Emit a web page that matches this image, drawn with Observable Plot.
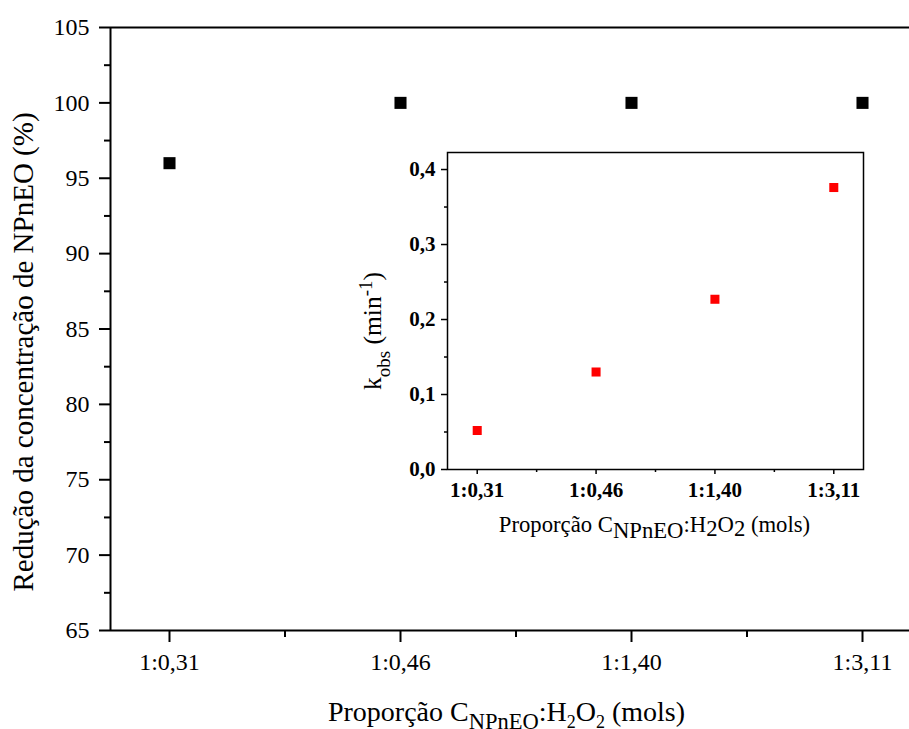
<!DOCTYPE html>
<html><head><meta charset="utf-8">
<script src="https://cdn.jsdelivr.net/npm/d3@7"></script>
<script src="https://cdn.jsdelivr.net/npm/@observablehq/plot@0.6"></script>
<style>
body{margin:0;background:#fff;color:#000}
#wrap{position:relative;width:909px;height:729px;overflow:hidden}
#wrap svg{position:absolute;left:0;top:0}
</style></head><body><div id="wrap"></div>
<script>
// ---- data ----
const categories = ["1:0,31", "1:0,46", "1:1,40", "1:3,11"];
const reduction = [96, 100, 100, 100];           // Redução (%)
const kobs = [0.052, 0.130, 0.227, 0.376];        // k_obs (min^-1)
const mainYTicks = [65, 70, 75, 80, 85, 90, 95, 100, 105];
const mainYMinor = [67.5, 72.5, 77.5, 82.5, 87.5, 92.5, 97.5, 102.5];
const insetYTicks = [0, 0.1, 0.2, 0.3, 0.4];
const insetYMinor = [0.05, 0.15, 0.25, 0.35];
const catIndex = [0, 1, 2, 3];
const catMinor = [0.5, 1.5, 2.5];

const yTitle = "Redução da concentração de NPnEO (%)";
const xTitle = "Proporção CNPnEO:H2O2 (mols)";
const insetYTitle = "kobs (min-1)";
const insetXTitle = "Proporção CNPnEO:H2O2 (mols) ";

const mainData = categories.map((c, i) => ({i, c, v: reduction[i]}));
const insetData = categories.map((c, i) => ({i, c, k: kobs[i]}));
const FONT = "'Liberation Serif', 'Times New Roman', serif";
const commaFmt = d => d.toFixed(1).replace(".", ",");

const main = Plot.plot({
  width: 909, height: 729,
  marginLeft: 110, marginRight: 0, marginTop: 27, marginBottom: 99,
  style: {fontFamily: FONT, background: "transparent", color: "#000"},
  x: {domain: [-0.2554, 3.2554], range: [110, 921], label: null},
  y: {domain: [65, 105], label: null},
  marks: [
    Plot.axisY({ticks: mainYTicks, tickSize: 11, tickPadding: 10, fontSize: 24, strokeWidth: 2, label: null, tickFormat: d => String(d)}),
    Plot.axisY({ticks: mainYMinor, tickSize: 6, strokeWidth: 2, label: null, tickFormat: () => ""}),
    Plot.axisX({ticks: catIndex, tickSize: 12, tickPadding: 10, fontSize: 24, strokeWidth: 2, label: null, tickFormat: i => categories[i]}),
    Plot.axisX({ticks: catMinor, tickSize: 7, strokeWidth: 2, label: null, tickFormat: () => ""}),
    Plot.ruleY([65, 105], {strokeWidth: 2}),
    Plot.ruleX([-0.2554], {strokeWidth: 2}),
    Plot.dot(mainData, {x: "i", y: "v", symbol: "square", r: 6.8, fill: "#000"}),
    Plot.text([yTitle], {text: d => d, frameAnchor: "left", textAnchor: "middle", lineAnchor: "middle", rotate: -90, dx: -86.5, dy: 23, fontSize: 29}),
    Plot.text([xTitle], {text: d => d, frameAnchor: "bottom", textAnchor: "middle", lineAnchor: "middle", dx: -3.5, dy: 82, fontSize: 28})
  ]
});

const inset = Plot.plot({
  width: 909, height: 729,
  marginLeft: 447, marginRight: 46, marginTop: 152, marginBottom: 260,
  style: {fontFamily: FONT, background: "transparent", color: "#000"},
  x: {domain: [-0.25, 3.25], label: null},
  y: {domain: [0, 0.4227], label: null},
  marks: [
    Plot.frame({strokeWidth: 1.5}),
    Plot.axisY({ticks: insetYTicks, tickSize: 6, tickPadding: 6, fontSize: 21, fontWeight: "bold", strokeWidth: 1.5, label: null, tickFormat: commaFmt}),
    Plot.axisY({ticks: insetYMinor, tickSize: 3, strokeWidth: 1.5, label: null, tickFormat: () => ""}),
    Plot.axisX({ticks: catIndex, tickSize: 5, tickPadding: 8, fontSize: 21, fontWeight: "bold", strokeWidth: 1.5, label: null, tickFormat: i => categories[i]}),
    Plot.axisX({ticks: catMinor, tickSize: 3, strokeWidth: 1.5, label: null, tickFormat: () => ""}),
    Plot.dot(insetData, {x: "i", y: "k", symbol: "square", r: 5.1, fill: "#f00"}),
    Plot.text([insetYTitle], {text: d => d, frameAnchor: "left", textAnchor: "middle", lineAnchor: "middle", rotate: -90, dx: -75, dy: 20, fontSize: 25.5}),
    Plot.text([insetXTitle], {text: d => d, frameAnchor: "bottom", textAnchor: "middle", lineAnchor: "middle", dx: -1, dy: 55.7, fontSize: 22.7})
  ]
});

function rich(svg, plain, parts, base) {
  d3.select(svg).selectAll("text").filter(function () { return this.textContent === plain; })
    .each(function () {
      const t = d3.select(this);
      t.text(null);
      let cur = 0;
      for (const p of parts) {
        const shift = p.shift || 0;
        t.append("tspan").attr("font-size", p.size || base).attr("dy", shift - cur).text(p.t);
        cur = shift;
      }
    });
}

rich(main, xTitle, [
  {t: "Proporção C"}, {t: "NPnEO", size: 22.5, shift: 8}, {t: ":H"}, {t: "2", size: 18, shift: 7},
  {t: "O"}, {t: "2", size: 18, shift: 7}, {t: " (mols)"}
], 28);
rich(inset, insetYTitle, [
  {t: "k"}, {t: "obs", size: 19, shift: 9}, {t: " (min"}, {t: "-1", size: 19, shift: -9}, {t: ")"}
], 25.5);
rich(inset, insetXTitle, [
  {t: "Proporção C"}, {t: "NPnEO", shift: 6}, {t: ":H"}, {t: "2", shift: 4},
  {t: "O"}, {t: "2", shift: 4}, {t: " (mols)"}
], 22.7);

document.getElementById("wrap").append(main, inset);
</script></body></html>
